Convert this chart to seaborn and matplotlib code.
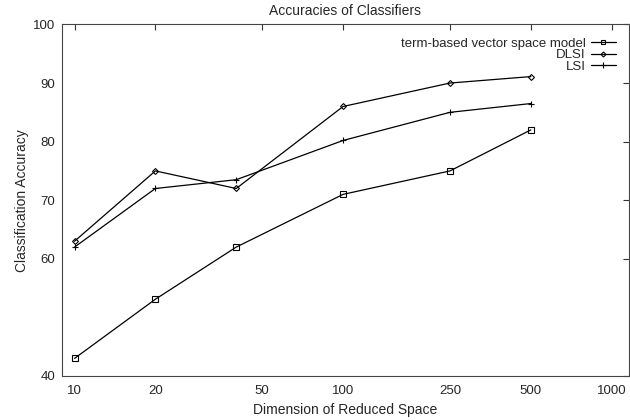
import numpy as np
import pandas as pd
import matplotlib
matplotlib.use("Agg")
import matplotlib.pyplot as plt
import seaborn as sns

# data
dims = [10, 20, 40, 100, 250, 500]
term_based = [43.0, 53.1, 62.0, 71.0, 75.0, 82.0]
dlsi = [63.0, 75.0, 72.0, 86.0, 90.0, 91.1]
lsi = [62.0, 72.0, 73.5, 80.2, 85.0, 86.5]

series_names = ["term-based vector space model", "DLSI", "LSI"]
x_ticks = [10, 20, 50, 100, 250, 500, 1000]
y_ticks = [40, 60, 70, 80, 90, 100]

sns.set_style("white")
plt.rcParams['font.family'] = ['Liberation Sans', 'DejaVu Sans']

fig = plt.figure(figsize=(6.3, 4.2), dpi=100)
ax = fig.add_axes([0.0984, 0.1048, 0.9, 0.837])

styles = {
    "term-based vector space model": dict(marker="s", markersize=4.0, mfc="none"),
    "DLSI": dict(marker="D", markersize=3.0, mfc="none"),
    "LSI": dict(marker="+", markersize=5.0),
}

for name, vals in zip(series_names, [term_based, dlsi, lsi]):
    df = pd.DataFrame({"dim": dims, "acc": vals})
    sns.lineplot(data=df, x="dim", y="acc", ax=ax, color="black",
                 linewidth=0.9, markeredgewidth=0.8, markeredgecolor="black",
                 label=name, **styles[name])

ax.set_xscale("log")
ax.set_xlim(8.98, 1160)
ax.set_ylim(40, 100)
ax.set_xticks(x_ticks)
ax.set_xticklabels([str(t) for t in x_ticks])
ax.minorticks_off()
ax.set_yticks(y_ticks)

ax.tick_params(direction="in", top=True, right=True, length=4, width=0.8,
               labelsize=9.5, color="#333333")
ax.tick_params(axis="x", pad=6.5)
ax.tick_params(axis="y", pad=5)
for sp in ax.spines.values():
    sp.set_color("#444444")
    sp.set_linewidth(0.8)

ax.set_title("Accuracies of Classifiers", fontsize=10, pad=7)
ax.set_xlabel("Dimension of Reduced Space", fontsize=10, labelpad=4)
ax.set_ylabel("Classification Accuracy", fontsize=10, labelpad=3)

ax.legend(loc="upper right", markerfirst=False, frameon=False, fontsize=9.5,
          handlelength=1.9, handletextpad=0.4, labelspacing=-0.05,
          borderaxespad=0.6, alignment="right", markerscale=0.85)

fig.savefig("out.png", dpi=100)
